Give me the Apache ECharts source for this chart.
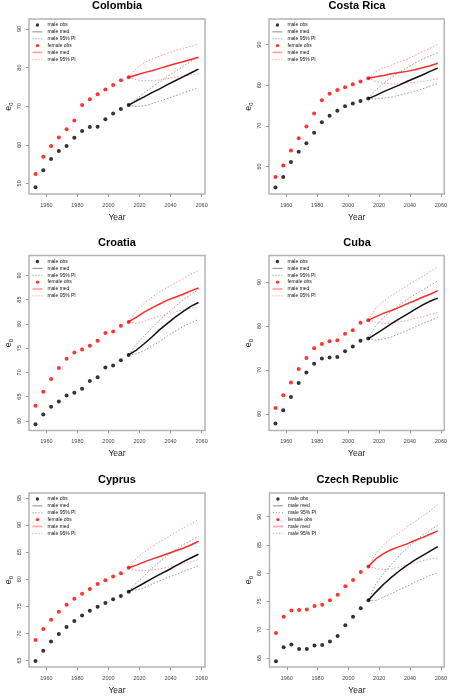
<!DOCTYPE html>
<html><head><meta charset="utf-8">
<script src="https://cdn.jsdelivr.net/npm/echarts@6/dist/echarts.min.js"></script>
<style>html,body{margin:0;padding:0;background:#fff}#c{width:450px;height:696px}</style>
</head><body><div id="c"></div>
<script>
const countries = ['Colombia', 'Costa Rica', 'Croatia', 'Cuba', 'Cyprus', 'Czech Republic'];
const yearsObs = [1953, 1958, 1963, 1968, 1973, 1978, 1983, 1988, 1993, 1998, 2003, 2008, 2013];
const yearsProj = [2013, 2018, 2023, 2028, 2033, 2038, 2043, 2048, 2053, 2058];
const xTicks = [1960, 1980, 2000, 2020, 2040, 2060];
const legendLabels = ['male obs', 'male med', 'male 95% PI', 'female obs', 'male med', 'male 95% PI'];

// Colombia
const colombiaMaleObs = [49.0, 53.4, 56.3, 58.4, 59.7, 61.8, 63.6, 64.6, 64.7, 66.6, 68.1, 69.3, 70.3];
const colombiaFemaleObs = [52.4, 56.9, 59.7, 61.9, 64.0, 66.3, 70.3, 71.8, 73.1, 74.3, 75.5, 76.7, 77.5];
const colombiaMaleMed = [70.3, 71.4, 72.4, 73.5, 74.5, 75.6, 76.6, 77.6, 78.6, 79.6];
const colombiaMaleLow = [70.3, 69.9, 70.1, 70.6, 71.3, 72.0, 72.7, 73.4, 74.1, 74.7];
const colombiaMaleHigh = [70.3, 71.9, 73.5, 74.9, 76.3, 77.7, 79.0, 80.3, 81.6, 82.8];
const colombiaFemaleMed = [77.5, 78.1, 78.7, 79.2, 79.8, 80.4, 81.0, 81.5, 82.1, 82.7];
const colombiaFemaleLow = [77.5, 76.8, 76.6, 76.6, 76.8, 77.2, 77.4, 77.8, 78.1, 78.4];
const colombiaFemaleHigh = [77.5, 79.8, 81.3, 82.2, 83.0, 83.7, 84.4, 85.0, 85.5, 86.1];
const colombiaYTicks = [50, 60, 70, 80, 90];

// Costa Rica
const costaRicaMaleObs = [54.8, 57.4, 61.1, 63.6, 65.7, 68.3, 70.9, 72.5, 73.7, 74.8, 75.5, 76.1, 76.7];
const costaRicaFemaleObs = [57.4, 60.2, 63.9, 66.9, 69.8, 73.0, 76.3, 77.9, 78.8, 79.5, 80.2, 80.9, 81.7];
const costaRicaMaleMed = [76.7, 77.5, 78.4, 79.2, 80.0, 80.9, 81.7, 82.5, 83.4, 84.2];
const costaRicaMaleLow = [76.7, 76.6, 76.8, 77.1, 77.5, 78.0, 78.5, 79.1, 79.8, 80.4];
const costaRicaMaleHigh = [76.7, 78.9, 80.5, 81.9, 83.2, 84.3, 85.4, 86.4, 87.2, 88.0];
const costaRicaFemaleMed = [81.7, 82.1, 82.4, 82.8, 83.1, 83.4, 83.8, 84.3, 84.8, 85.4];
const costaRicaFemaleLow = [81.7, 80.9, 80.5, 80.3, 80.3, 80.5, 80.7, 80.9, 81.2, 81.6];
const costaRicaFemaleHigh = [81.7, 83.4, 84.2, 84.9, 85.7, 86.4, 87.3, 88.2, 89.1, 90.1];
const costaRicaYTicks = [60, 70, 80, 90];

// Croatia
const croatiaMaleObs = [59.3, 61.3, 62.9, 64.0, 65.2, 65.8, 66.6, 68.2, 69.0, 71.0, 71.4, 72.5, 73.6];
const croatiaFemaleObs = [63.1, 66.0, 68.6, 70.9, 72.8, 74.1, 74.7, 75.5, 76.5, 78.1, 78.4, 79.6, 80.4];
const croatiaMaleMed = [73.6, 74.6, 75.9, 77.3, 78.8, 80.1, 81.4, 82.5, 83.6, 84.4];
const croatiaMaleLow = [73.6, 73.8, 74.5, 75.4, 76.4, 77.5, 78.5, 79.4, 80.2, 80.9];
const croatiaMaleHigh = [73.6, 75.8, 77.5, 79.2, 80.8, 82.2, 83.6, 84.9, 86.0, 87.1];
const croatiaFemaleMed = [80.4, 81.4, 82.4, 83.3, 84.1, 84.9, 85.5, 86.1, 86.8, 87.4];
const croatiaFemaleLow = [80.4, 80.1, 80.5, 81.1, 81.6, 82.1, 82.5, 82.9, 83.2, 83.5];
const croatiaFemaleHigh = [80.4, 82.7, 84.2, 85.5, 86.6, 87.5, 88.4, 89.3, 90.2, 91.0];
const croatiaYTicks = [60, 65, 70, 75, 80, 85, 90];

// Cuba
const cubaMaleObs = [57.8, 60.8, 63.8, 67.0, 69.4, 71.4, 72.6, 72.8, 72.9, 74.2, 75.3, 76.6, 77.1];
const cubaFemaleObs = [61.3, 64.2, 67.1, 70.2, 72.7, 74.9, 75.9, 76.5, 76.7, 78.2, 79.0, 80.7, 81.3];
const cubaMaleMed = [77.1, 78.2, 79.3, 80.5, 81.6, 82.6, 83.7, 84.7, 85.6, 86.3];
const cubaMaleLow = [77.1, 76.8, 77.0, 77.5, 78.2, 78.9, 79.7, 80.5, 81.2, 81.9];
const cubaMaleHigh = [77.1, 80.1, 81.9, 83.4, 84.7, 85.9, 87.1, 88.1, 89.2, 90.2];
const cubaFemaleMed = [81.3, 82.1, 82.9, 83.5, 84.2, 85.0, 85.7, 86.5, 87.2, 88.0];
const cubaFemaleLow = [81.3, 80.8, 80.5, 80.7, 80.9, 81.2, 81.7, 82.1, 82.6, 83.0];
const cubaFemaleHigh = [81.3, 84.1, 85.6, 86.9, 88.0, 89.1, 90.2, 91.2, 92.3, 93.4];
const cubaYTicks = [60, 70, 80, 90];

// Cyprus
const cyprusMaleObs = [64.9, 66.8, 68.5, 69.9, 71.2, 72.3, 73.3, 74.2, 74.9, 75.6, 76.3, 76.9, 77.7];
const cyprusFemaleObs = [68.8, 70.8, 72.5, 74.0, 75.3, 76.4, 77.3, 78.2, 79.1, 79.8, 80.5, 81.1, 82.1];
const cyprusMaleMed = [77.7, 78.5, 79.3, 80.1, 80.9, 81.6, 82.4, 83.2, 83.9, 84.6];
const cyprusMaleLow = [77.7, 78.0, 78.4, 79.1, 79.7, 80.3, 80.8, 81.4, 81.9, 82.5];
const cyprusMaleHigh = [77.7, 79.3, 80.6, 82.0, 83.2, 84.3, 85.4, 86.3, 87.1, 87.9];
const cyprusFemaleMed = [82.1, 82.6, 83.2, 83.7, 84.2, 84.7, 85.2, 85.7, 86.3, 87.0];
const cyprusFemaleLow = [82.1, 81.6, 81.6, 81.7, 81.9, 82.2, 82.5, 82.9, 83.2, 83.6];
const cyprusFemaleHigh = [82.1, 83.9, 85.0, 86.0, 86.9, 87.7, 88.6, 89.4, 90.2, 91.0];
const cyprusYTicks = [65, 70, 75, 80, 85, 90, 95];

// Czech Republic
const czechMaleObs = [64.4, 66.9, 67.4, 66.6, 66.6, 67.2, 67.3, 67.9, 68.9, 70.8, 72.3, 73.8, 75.2];
const czechFemaleObs = [69.4, 72.3, 73.4, 73.5, 73.6, 74.2, 74.4, 75.2, 76.2, 77.7, 78.8, 80.2, 81.2];
const czechMaleMed = [75.2, 76.7, 78.1, 79.3, 80.4, 81.4, 82.3, 83.1, 83.9, 84.7];
const czechMaleLow = [75.2, 75.2, 75.8, 76.4, 77.1, 77.7, 78.4, 79.0, 79.6, 80.1];
const czechMaleHigh = [75.2, 78.2, 80.0, 81.6, 83.1, 84.4, 85.6, 86.7, 87.6, 88.5];
const czechFemaleMed = [81.2, 82.6, 83.5, 84.2, 84.7, 85.2, 85.8, 86.3, 86.9, 87.5];
const czechFemaleLow = [81.2, 80.8, 80.6, 80.8, 81.1, 81.5, 81.8, 82.2, 82.5, 82.7];
const czechFemaleHigh = [81.2, 83.5, 85.1, 86.2, 87.2, 88.2, 89.1, 90.1, 91.0, 92.2];
const czechYTicks = [65, 70, 75, 80, 85, 90];

const panels = [
  [colombiaMaleObs, colombiaFemaleObs, colombiaMaleMed, colombiaMaleLow, colombiaMaleHigh, colombiaFemaleMed, colombiaFemaleLow, colombiaFemaleHigh, colombiaYTicks],
  [costaRicaMaleObs, costaRicaFemaleObs, costaRicaMaleMed, costaRicaMaleLow, costaRicaMaleHigh, costaRicaFemaleMed, costaRicaFemaleLow, costaRicaFemaleHigh, costaRicaYTicks],
  [croatiaMaleObs, croatiaFemaleObs, croatiaMaleMed, croatiaMaleLow, croatiaMaleHigh, croatiaFemaleMed, croatiaFemaleLow, croatiaFemaleHigh, croatiaYTicks],
  [cubaMaleObs, cubaFemaleObs, cubaMaleMed, cubaMaleLow, cubaMaleHigh, cubaFemaleMed, cubaFemaleLow, cubaFemaleHigh, cubaYTicks],
  [cyprusMaleObs, cyprusFemaleObs, cyprusMaleMed, cyprusMaleLow, cyprusMaleHigh, cyprusFemaleMed, cyprusFemaleLow, cyprusFemaleHigh, cyprusYTicks],
  [czechMaleObs, czechFemaleObs, czechMaleMed, czechMaleLow, czechMaleHigh, czechFemaleMed, czechFemaleLow, czechFemaleHigh, czechYTicks]
];

// layout (pixels) and axis ranges
const gridLeft = [29, 269, 29, 269, 29, 269.5];
const gridTop = [19, 19, 255.5, 255.5, 493, 493];
const gridW = 176, gridH = 175;
const yRange = [[47.24, 92.6], [53.2, 96.3], [58.0, 94.1], [56.2, 96.0], [63.8, 95.9], [63.4, 94.2]];
const xRange = [1948.8, 2062.2];

const FONT = '"Liberation Sans", Arial, Helvetica, sans-serif';
const keys = ['mobs', 'mmed', 'mpi', 'fobs', 'fmed', 'fpi'];
const pairs = (xs, ys) => xs.map((x, i) => [x, ys[i]]);

const grids = [], xAxes = [], yAxes = [], titles = [], legends = [], series = [];
panels.forEach((p, i) => {
  const [mObs, fObs, mMed, mLo, mHi, fMed, fLo, fHi, yTicks] = p;
  grids.push({left: gridLeft[i], top: gridTop[i], width: gridW, height: gridH, show: true,
    borderColor: '#b4b4b4', borderWidth: 1.5, backgroundColor: 'transparent', containLabel: false});
  xAxes.push({type: 'value', gridIndex: i, min: xRange[0], max: xRange[1],
    name: 'Year', nameLocation: 'middle', nameGap: 19,
    nameTextStyle: {fontSize: 8.5, color: '#222', fontFamily: FONT},
    axisLine: {show: false}, splitLine: {show: false},
    axisTick: {show: true, length: 3, customValues: xTicks, lineStyle: {color: '#999', width: 1}},
    axisLabel: {customValues: xTicks, formatter: v => String(v), fontSize: 5.5, color: '#444', margin: 8, fontFamily: FONT}
  });
  yAxes.push({type: 'value', gridIndex: i, min: yRange[i][0], max: yRange[i][1],
    name: '{e|e}{s|0}', nameLocation: 'middle', nameGap: 16,
    nameTextStyle: {color: '#222', fontFamily: FONT,
      rich: {e: {fontSize: 9, lineHeight: 9, verticalAlign: 'top', color: '#222', fontFamily: FONT},
             s: {fontSize: 6, lineHeight: 6, padding: [5, 0, 0, 0], color: '#222', fontFamily: FONT}}},
    axisLine: {show: false}, splitLine: {show: false},
    axisTick: {show: true, length: 3, customValues: yTicks, lineStyle: {color: '#999', width: 1}},
    axisLabel: {customValues: yTicks, formatter: v => String(v), fontSize: 5.5, color: '#444', margin: 7, rotate: 90, fontFamily: FONT}
  });
  titles.push({text: countries[i], left: gridLeft[i] + gridW / 2, top: gridTop[i] - 18.5, textAlign: 'center', padding: 0,
    textStyle: {fontSize: 11, fontWeight: 'bold', color: '#000', fontFamily: FONT}});
  const nm = k => 'p' + i + '_' + k;
  legends.push({
    orient: 'vertical', left: gridLeft[i] + 2.5, top: gridTop[i] + 3.5, padding: 0,
    itemWidth: 10, itemHeight: 3.4, itemGap: 1.87, selectedMode: false,
    textStyle: {fontSize: 5, lineHeight: 5, color: '#111', fontFamily: FONT},
    formatter: name => legendLabels[keys.indexOf(name.split('_')[1])],
    data: [
      {name: nm('mobs'), icon: 'circle', itemStyle: {color: '#000'}},
      {name: nm('mmed'), itemStyle: {color: 'rgba(0,0,0,0)', borderWidth: 0}, lineStyle: {color: '#8a8a8a', width: 1, type: 'solid'}},
      {name: nm('mpi'), itemStyle: {color: 'rgba(0,0,0,0)', borderWidth: 0}, lineStyle: {color: '#999', width: 1, type: [1.2, 1.8]}},
      {name: nm('fobs'), icon: 'circle', itemStyle: {color: '#ff0000'}},
      {name: nm('fmed'), itemStyle: {color: 'rgba(0,0,0,0)', borderWidth: 0}, lineStyle: {color: '#ffaaaa', width: 1.8, type: 'solid'}},
      {name: nm('fpi'), itemStyle: {color: 'rgba(0,0,0,0)', borderWidth: 0}, lineStyle: {color: '#ff9a9a', width: 1, type: [1.2, 1.8]}}
    ]
  });
  const line = (name, data, color, width, type, z) => ({
    type: 'line', name, xAxisIndex: i, yAxisIndex: i, data, symbol: 'none', showSymbol: false,
    lineStyle: {color, width, type}, itemStyle: {color}, silent: true, z
  });
  series.push(line(nm('mpi'), pairs(yearsProj, mHi), '#9a9a9a', 1, [1.5, 1.8], 2));
  series.push(line(nm('mpi'), pairs(yearsProj, mLo), '#9a9a9a', 1, [1.5, 1.8], 2));
  series.push(line(nm('fpi'), pairs(yearsProj, fHi), '#ff9a9a', 1, [1.5, 1.8], 2));
  series.push(line(nm('fpi'), pairs(yearsProj, fLo), '#ff9a9a', 1, [1.5, 1.8], 2));
  series.push(line(nm('mmed'), pairs(yearsProj, mMed), '#111', 1.5, 'solid', 3));
  series.push(line(nm('fmed'), pairs(yearsProj, fMed), '#ff2a2a', 1.5, 'solid', 3));
  series.push({type: 'scatter', name: nm('mobs'), xAxisIndex: i, yAxisIndex: i, data: pairs(yearsObs, mObs),
    symbol: 'circle', symbolSize: 4, itemStyle: {color: '#000'}, silent: true, z: 4});
  series.push({type: 'scatter', name: nm('fobs'), xAxisIndex: i, yAxisIndex: i, data: pairs(yearsObs, fObs),
    symbol: 'circle', symbolSize: 4, itemStyle: {color: '#ff0000'}, silent: true, z: 4});
});

const chart = echarts.init(document.getElementById('c'), null, {renderer: 'canvas'});
chart.setOption({
  animation: false,
  backgroundColor: '#fff',
  title: titles, legend: legends, grid: grids, xAxis: xAxes, yAxis: yAxes, series
});
</script></body></html>
